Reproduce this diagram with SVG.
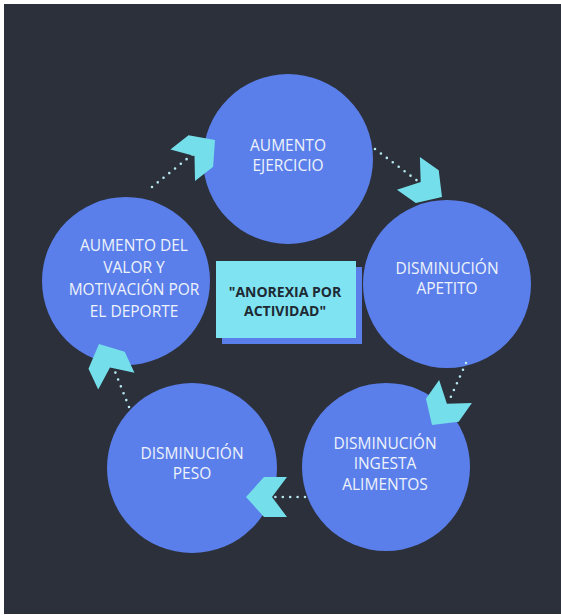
<svg xmlns="http://www.w3.org/2000/svg" width="561" height="615" viewBox="0 0 561 615">
  <style>
    .node circle { fill: #5b7fea; }
    .label { font-family: "Open Sans", "Liberation Sans", sans-serif; font-size: 15.5px; fill: #eef3fb; text-anchor: middle; }
    .title { font-family: "Open Sans", "Liberation Sans", sans-serif; font-size: 14px; font-weight: bold; fill: #1e2a33; text-anchor: middle; }
    .dots { fill: none; stroke: #b8e8f0; stroke-width: 2.6; stroke-linecap: round; stroke-dasharray: 0 7.4; }
    .chev { fill: #74dfea; }
  </style>
  <defs>
    <!-- chevron pointing along +x, tip at the origin -->
    <polygon id="chevron" points="0,0 -18,-20 -41,-20 -26,0 -41,20 -18,20"/>
  </defs>

  <rect x="0" y="0" width="561" height="615" fill="#ffffff"/>
  <rect x="4" y="4" width="557" height="610" fill="#2b303b"/>

  <g id="n-ejercicio" class="node">
    <circle cx="288" cy="159" r="85"/>
    <text class="label" x="288" y="151">AUMENTO</text>
    <text class="label" x="288" y="171">EJERCICIO</text>
  </g>

  <g id="n-apetito" class="node">
    <circle cx="447" cy="284" r="84"/>
    <text class="label" x="447" y="274">DISMINUCIÓN</text>
    <text class="label" x="447" y="294">APETITO</text>
  </g>

  <g id="n-ingesta" class="node">
    <circle cx="386" cy="467" r="84"/>
    <text class="label" x="385" y="449">DISMINUCIÓN</text>
    <text class="label" x="385" y="469">INGESTA</text>
    <text class="label" x="385" y="490">ALIMENTOS</text>
  </g>

  <g id="n-peso" class="node">
    <circle cx="192" cy="468" r="85"/>
    <text class="label" x="192" y="459">DISMINUCIÓN</text>
    <text class="label" x="192" y="479">PESO</text>
  </g>

  <g id="n-motivacion" class="node">
    <circle cx="126" cy="281" r="84"/>
    <text class="label" x="134" y="251">AUMENTO DEL</text>
    <text class="label" x="134" y="273">VALOR Y</text>
    <text class="label" x="134" y="295">MOTIVACIÓN POR</text>
    <text class="label" x="134" y="317">EL DEPORTE</text>
  </g>

  <g id="n-anorexia">
    <rect x="222" y="267" width="140" height="77" fill="#5b7fea"/>
    <rect x="216" y="261" width="140" height="77" fill="#7fe3f1"/>
    <text class="title" x="285" y="297">"ANOREXIA POR</text>
    <text class="title" x="285" y="316">ACTIVIDAD"</text>
  </g>

  <g id="connectors">
    <!-- dotted trails -->
    <line class="dots" x1="152" y1="187" x2="193" y2="154"/>
    <line class="dots" x1="375" y1="149" x2="419" y2="182"/>
    <line class="dots" x1="466" y1="363" x2="449" y2="401"/>
    <line class="dots" x1="305" y1="497" x2="275" y2="497"/>
    <line class="dots" x1="129" y1="407" x2="112" y2="364"/>
    <!-- chevron heads -->
    <use href="#chevron" class="chev" transform="translate(215,140) rotate(-38)"/>
    <use href="#chevron" class="chev" transform="translate(442,197) rotate(35)"/>
    <use href="#chevron" class="chev" transform="translate(432,425) rotate(125)"/>
    <use href="#chevron" class="chev" transform="translate(246,497) rotate(180)"/>
    <use href="#chevron" class="chev" transform="translate(99,344) rotate(-115)"/>
  </g>
</svg>
